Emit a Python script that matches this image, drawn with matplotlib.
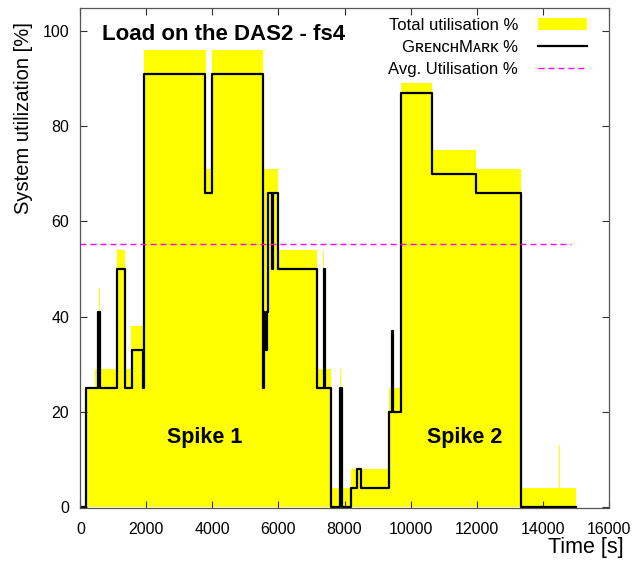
import numpy as np
import matplotlib
matplotlib.use('Agg')
import matplotlib.pyplot as plt
from matplotlib.patches import Patch
from matplotlib.lines import Line2D

plt.rcParams['font.family'] = ['Liberation Sans', 'DejaVu Sans']

# step data: segment start times [s] and values [%], both series end at t_end
t_end = 15020
total_t = [0, 172, 445, 565, 585, 1101, 1352, 1530, 1930, 3794, 3994, 5537, 5973,
           7153, 7360, 7390, 7586, 7870, 7900, 8099, 8119, 8182, 8432, 8452,
           9350, 9460, 9480, 9725, 10651, 11994, 13356, 14505, 14525]
total_v = [0, 25, 29, 46, 29, 54, 29, 38, 96, 71, 96, 71, 54,
           29, 54, 29, 4, 29, 4, 13, 4, 8, 13, 8,
           25, 42, 25, 89, 75, 71, 4, 13, 4]

gm_t = [0, 172, 530, 600, 1101, 1352, 1555, 1895, 1915, 3773, 3980, 5537, 5570,
        5600, 5640, 5688, 5791, 5840, 5973, 7153, 7375, 7420, 7586, 7858, 7910,
        8182, 8393, 8493, 9350, 9445, 9480, 9725, 10651, 11994, 13356]
gm_v = [0, 25, 41, 25, 50, 25, 33, 25, 91, 66, 91, 25, 41,
        33, 41, 66, 50, 66, 50, 25, 50, 25, 0, 25, 0,
        4, 8, 4, 20, 37, 20, 87, 70, 66, 0]

avg_util = 55.2
avg_end = 14870

x_ticks = np.arange(0, 16001, 2000)
y_ticks = np.arange(0, 101, 20)

fig = plt.figure(figsize=(6.34, 5.61), dpi=100)
ax = fig.add_axes([0.1267, 0.0950, 0.8334, 0.8902])

tx = np.append(total_t, t_end)
ty = np.append(total_v, total_v[-1])
ax.fill_between(tx, ty, step='post', color='#ffff00', lw=0, zorder=1)

gx = np.append(gm_t, t_end)
gy = np.append(gm_v, gm_v[-1])
ax.step(gx, gy, where='post', color='black', lw=1.6, zorder=2)

ax.plot([0, avg_end], [avg_util, avg_util], color='#ff00ff', lw=1,
        ls=(0, (4.3, 2.9)), zorder=3)

ax.set_xlim(0, 16000)
ax.set_ylim(-0.2, 104.8)
ax.set_xticks(x_ticks)
ax.set_yticks(y_ticks)
ax.tick_params(direction='in', length=5, width=0.8, top=True, right=True,
               labelsize=11.5, color='#333333')
ax.tick_params(axis='x', pad=10)
ax.tick_params(axis='y', pad=8)
for s in ax.spines.values():
    s.set_color('#555555')
    s.set_linewidth(0.9)

ax.set_ylabel('System utilization [%]', fontsize=14.5)
ax.yaxis.set_label_coords(-0.090, 0.781)
ax.set_xlabel('Time [s]', fontsize=15.5)
ax.xaxis.set_label_coords(0.957, -0.058)

ax.text(650, 98.2, 'Load on the DAS2 - fs4', fontsize=16, fontweight='bold',
        ha='left', va='baseline')
ax.text(3767, 13.3, 'Spike 1', fontsize=15.5, fontweight='bold',
        ha='center', va='baseline')
ax.text(11636, 13.3, 'Spike 2', fontsize=15.5, fontweight='bold',
        ha='center', va='baseline')

handles = [Patch(facecolor='#ffff00', edgecolor='none'),
           Line2D([], [], color='black', lw=1.6),
           Line2D([], [], color='#ff00ff', lw=1, ls=(0, (4.3, 2.9)))]
labels = ['Total utilisation %', 'G\u0280\u1d07\u0274\u1d04\u029cM\u1d00\u0280\u1d0b %',
          'Avg. Utilisation %']
ax.legend(handles, labels, loc='upper right', bbox_to_anchor=(0.958, 0.981),
          markerfirst=False, frameon=False, fontsize=12, handlelength=2.9,
          handletextpad=1.2, labelspacing=0.42, borderpad=0, borderaxespad=0)

fig.savefig('out.png', dpi=100)
